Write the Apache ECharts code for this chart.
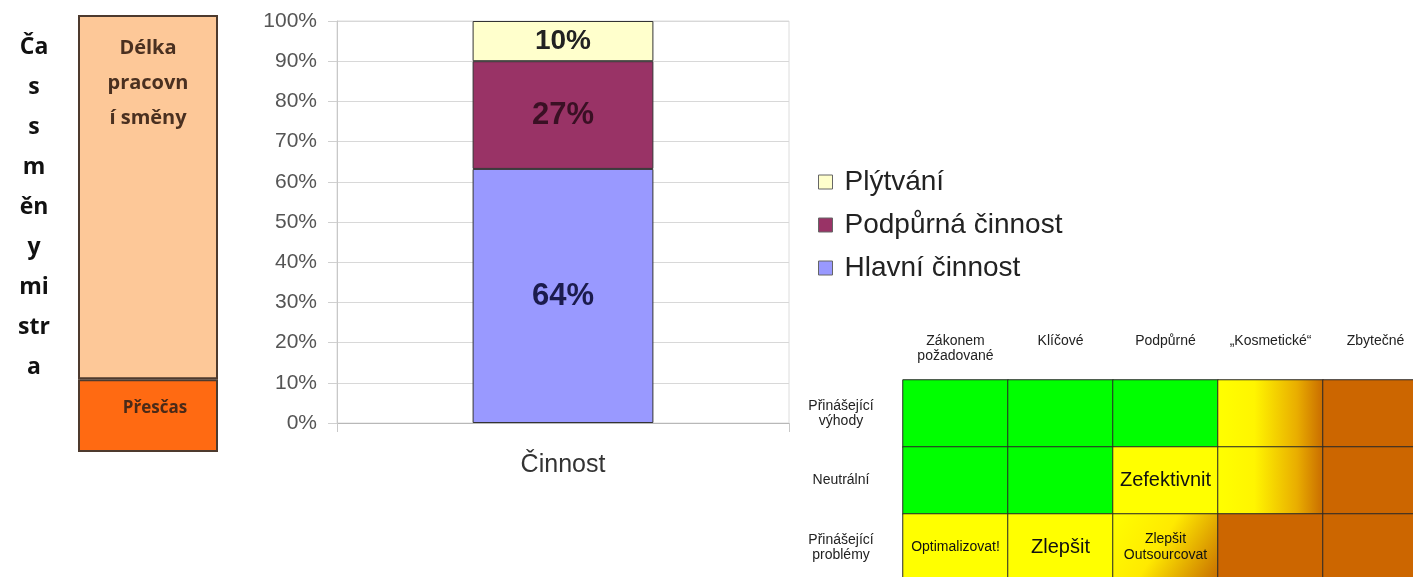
<!DOCTYPE html>
<html><head><meta charset="utf-8">
<script src="https://cdn.jsdelivr.net/npm/echarts@6/dist/echarts.min.js"></script>
<style>html,body{margin:0;padding:0;background:#fff}#c{width:1413px;height:577px}</style>
</head><body><div id="c"></div>
<script>
// Left panel: shift time of a foreman
const shiftTitleLines = ['Ča', 's', 's', 'm', 'ěn', 'y', 'mi', 'str', 'a'];
const shiftCategory = ['Čas směny mistra'];
const shiftNames = ['Délka\npracovn\ní směny', 'Přesčas'];
const shiftLength = [10];
const overtime = [2];

// Middle chart: activity shares (percent)
const activityCategory = ['Činnost'];
const mainActivity = [63.2];
const supportActivity = [26.8];
const waste = [10];
const activityLabels = { main: '64%', support: '27%', waste: '10%' };
const seriesNames = ['Plýtvání', 'Podpůrná činnost', 'Hlavní činnost'];

// Right matrix
const matrixColumns = ['Zákonem\npožadované', 'Klíčové', 'Podpůrné', '„Kosmetické“', 'Zbytečné'];
const matrixRows = ['Přinášející\nvýhody', 'Neutrální', 'Přinášející\nproblémy'];
// cell kinds per row: G=green, Y=yellow, B=brown, H=yellow→brown horizontal, D=yellow→brown diagonal
const matrixKinds = [
  ['G', 'G', 'G', 'H', 'B'],
  ['G', 'G', 'Y', 'H', 'B'],
  ['Y', 'Y', 'D', 'B', 'B']
];
const matrixTexts = [
  ['', '', '', '', ''],
  ['', '', 'Zefektivnit', '', ''],
  ['Optimalizovat!', 'Zlepšit', 'Zlepšit\nOutsourcovat', '', '']
];

const chart = echarts.init(document.getElementById('c'));
const GREEN = '#00ff00', YELLOW = '#ffff00', BROWN = '#cc6600';
function kindColor(k) {
  if (k === 'G') return GREEN;
  if (k === 'Y') return YELLOW;
  if (k === 'B') return BROWN;
  if (k === 'H') return new echarts.graphic.LinearGradient(0, 0, 1, 0, [
    { offset: 0, color: '#ffff00' }, { offset: 0.35, color: '#fff500' },
    { offset: 0.75, color: '#e9ad00' }, { offset: 1, color: '#c86a00' }]);
  return new echarts.graphic.LinearGradient(0, 0, 1, 1, [
    { offset: 0, color: '#ffff00' }, { offset: 0.45, color: '#ffea00' },
    { offset: 1, color: '#c66a00' }]);
}
const textSizes = { 'Zefektivnit': 20, 'Zlepšit': 20 };
const heatData = [];
matrixKinds.forEach((row, r) => row.forEach((k, c) => {
  const t = matrixTexts[r][c];
  heatData.push({
    value: [c, r, 1],
    itemStyle: { color: kindColor(k), borderColor: '#2a2a2a', borderWidth: 1 },
    label: { show: !!t, formatter: t, fontSize: textSizes[t] || 14, lineHeight: 16,
      color: '#111', fontFamily: 'Liberation Sans, Arial, sans-serif' }
  });
}));

const baseFont = 'Liberation Sans, Arial, sans-serif';
chart.setOption({
  animation: false,
  backgroundColor: '#ffffff',
  graphic: [{
    type: 'text', x: 34, y: 27,
    style: { text: shiftTitleLines.join('\n'), align: 'center', verticalAlign: 'top',
      fontSize: 23, fontWeight: 'bold', lineHeight: 40, fill: '#111',
      fontFamily: 'Open Sans, DejaVu Sans, sans-serif' }
  }],
  legend: {
    orient: 'vertical', left: 813, top: 163, itemGap: 15,
    itemWidth: 14, itemHeight: 14, icon: 'rect',
    data: seriesNames,
    itemStyle: { borderColor: '#666', borderWidth: 1 },
    textStyle: { fontSize: 28, color: '#222', fontFamily: baseFont, padding: [0, 0, 0, 7] }
  },
  grid: [
    { left: 78, top: 15, width: 140, height: 437, outerBoundsMode: 'none' },
    { left: 337, top: 21, width: 452, height: 402, show: true, borderColor: '#dcdcdc', borderWidth: 1, outerBoundsMode: 'none' },
    { left: 903, top: 380, width: 525, height: 201, outerBoundsMode: 'none' }
  ],
  xAxis: [
    { gridIndex: 0, type: 'category', data: shiftCategory, show: false },
    { gridIndex: 1, type: 'category', data: activityCategory,
      axisLine: { lineStyle: { color: '#b8b8b8' } },
      axisTick: { show: true, length: 9, lineStyle: { color: '#c8c8c8' } },
      axisLabel: { fontSize: 25, color: '#333', margin: 30, fontFamily: baseFont } },
    { gridIndex: 2, type: 'category', data: matrixColumns, position: 'top',
      axisLine: { show: false }, axisTick: { show: false }, splitLine: { show: false },
      axisLabel: { fontSize: 14, color: '#222', margin: 46, verticalAlign: 'top', lineHeight: 15,
        fontFamily: baseFont, interval: 0 } }
  ],
  yAxis: [
    { gridIndex: 0, type: 'value', min: 0, max: shiftLength[0] + overtime[0], show: false },
    { gridIndex: 1, type: 'value', min: 0, max: 100, interval: 10,
      axisLine: { show: true, lineStyle: { color: '#c8c8c8' } },
      axisTick: { show: true, length: 9, lineStyle: { color: '#d0d0d0' } },
      splitLine: { lineStyle: { color: '#d8d8d8' } },
      axisLabel: { formatter: '{value}%', fontSize: 21, color: '#555', margin: 20, fontFamily: baseFont } },
    { gridIndex: 2, type: 'category', data: matrixRows, inverse: true,
      axisLine: { show: false }, axisTick: { show: false },
      axisLabel: { fontSize: 14, color: '#222', align: 'center', margin: 62, lineHeight: 15,
        padding: [4, 0, 0, 0], fontFamily: baseFont } }
  ],
  series: [
    { type: 'bar', xAxisIndex: 0, yAxisIndex: 0, stack: 's', barWidth: '100%', data: overtime,
      itemStyle: { color: '#ff6a12', borderColor: '#4d3a2e', borderWidth: 2 },
      label: { show: true, position: 'inside', formatter: shiftNames[1], offset: [7, -7],
        fontSize: 17, fontWeight: 'bold', color: '#4a2a18', fontFamily: 'Open Sans, sans-serif' } },
    { type: 'bar', xAxisIndex: 0, yAxisIndex: 0, stack: 's', barWidth: '100%', data: shiftLength,
      itemStyle: { color: '#fdc898', borderColor: '#4d3a2e', borderWidth: 2 },
      label: { show: true, position: 'insideTop', distance: 16, formatter: shiftNames[0],
        fontSize: 20, lineHeight: 35, fontWeight: 'bold', color: '#4a3020', fontFamily: 'Open Sans, sans-serif' } },

    { name: seriesNames[2], type: 'bar', xAxisIndex: 1, yAxisIndex: 1, stack: 'a', barWidth: '40%',
      data: mainActivity,
      itemStyle: { color: '#9999ff', borderColor: '#333', borderWidth: 1 },
      label: { show: true, position: 'inside', formatter: activityLabels.main,
        fontSize: 31, fontWeight: 'bold', color: '#1b1b4d', fontFamily: baseFont } },
    { name: seriesNames[1], type: 'bar', xAxisIndex: 1, yAxisIndex: 1, stack: 'a', barWidth: '40%',
      data: supportActivity,
      itemStyle: { color: '#993366', borderColor: '#333', borderWidth: 1 },
      label: { show: true, position: 'inside', formatter: activityLabels.support,
        fontSize: 31, fontWeight: 'bold', color: '#3a1024', fontFamily: baseFont } },
    { name: seriesNames[0], type: 'bar', xAxisIndex: 1, yAxisIndex: 1, stack: 'a', barWidth: '40%',
      data: waste,
      itemStyle: { color: '#ffffcc', borderColor: '#333', borderWidth: 1 },
      label: { show: true, position: 'inside', formatter: activityLabels.waste,
        fontSize: 28, fontWeight: 'bold', color: '#222', fontFamily: baseFont } },

    { type: 'heatmap', xAxisIndex: 2, yAxisIndex: 2, data: heatData }
  ]
});
</script></body></html>
